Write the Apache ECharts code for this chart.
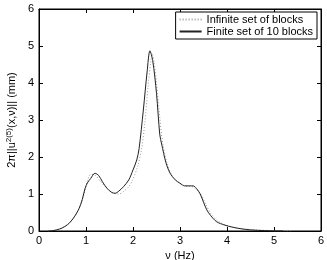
<!DOCTYPE html>
<html><head><meta charset="utf-8">
<script src="https://cdn.jsdelivr.net/npm/echarts@6/dist/echarts.min.js"></script>
<style>html,body{margin:0;padding:0;background:#fff}#c{width:327px;height:260px}</style>
</head><body><div id="c"></div>
<script>
const xTicks = [0,1,2,3,4,5,6];
const yTicks = [0,1,2,3,4,5,6];
const finiteV = [0.2,0.3,0.43,0.55,0.65,0.75,0.85,0.92,0.98,1.03,1.1,1.19,1.27,1.35,1.45,1.55,1.62,1.7,1.8,1.91,2.0,2.08,2.13,2.22,2.3,2.36,2.42,2.5,2.57,2.61,2.7,2.79,2.9,3.0,3.1,3.2,3.28,3.35,3.43,3.5,3.57,3.65,3.78,3.95,4.13,4.3,4.5,4.8,5.2];
const finiteY = [0,0.01,0.05,0.12,0.22,0.38,0.6,0.85,1.15,1.3,1.42,1.56,1.5,1.33,1.15,1.04,1.02,1.08,1.2,1.38,1.65,1.92,2.23,3.27,4.3,4.87,4.6,3.72,2.6,2.35,1.85,1.56,1.38,1.29,1.22,1.22,1.22,1.15,1.0,0.78,0.57,0.42,0.25,0.16,0.1,0.06,0.03,0.01,0];
const infiniteV = [0.2,0.43,0.65,0.85,0.95,1.02,1.1,1.18,1.3,1.45,1.6,1.7,1.8,1.91,2.0,2.1,2.18,2.25,2.32,2.38,2.41,2.45,2.5,2.56,2.63,2.72,2.82,2.95,3.1,3.25,3.35,3.45,3.55,3.65,3.8,4.0,4.2,4.5,5.0,5.4];
const infiniteY = [0,0.05,0.22,0.6,0.95,1.3,1.53,1.52,1.35,1.15,1.02,1.0,1.07,1.2,1.4,1.75,2.2,2.9,3.9,4.6,4.78,4.55,4.0,3.2,2.4,1.85,1.52,1.33,1.22,1.2,1.12,0.98,0.72,0.48,0.27,0.15,0.08,0.04,0.01,0];

const pair = (a,b)=>a.map((v,i)=>[v,b[i]]);
const font = 'Liberation Sans, Arial, sans-serif';
function axis(extra){
  return Object.assign({
    type:'value', min:xTicks[0], max:xTicks[xTicks.length-1], interval:1,
    axisLine:{show:true, onZero:false, lineStyle:{color:'#000', width:1}},
    axisTick:{show:true, inside:true, length:4, lineStyle:{color:'#000'}},
    splitLine:{show:false}
  }, extra);
}
const chart = echarts.init(document.getElementById('c'));
chart.setOption({
  animation:false,
  backgroundColor:'#fff',
  grid:{left:39, right:6, top:9, bottom:29, outerBoundsMode:'none', containLabel:false,
        show:true, borderColor:'#000', borderWidth:1, backgroundColor:'transparent'},
  legend:{
    orient:'vertical', right:10, top:12,
    backgroundColor:'#fff', borderColor:'#000', borderWidth:1,
    padding:[2,4,2,3], itemGap:1, itemWidth:22, itemHeight:10,
    itemStyle:{opacity:0},
    textStyle:{fontFamily:font, fontSize:11, color:'#000'},
    data:['Infinite set of blocks','Finite set of 10 blocks']
  },
  xAxis:[
    axis({position:'bottom', name:'ν (Hz)', nameLocation:'middle', nameGap:14,
      nameTextStyle:{fontFamily:font, fontSize:11, color:'#000'},
      axisLabel:{fontFamily:font, fontSize:11, color:'#000', margin:4}}),
    axis({position:'top', axisLabel:{show:false}})
  ],
  yAxis:[
    axis({position:'left', min:yTicks[0], max:yTicks[yTicks.length-1], name:'2π||u{s|2(5)}(x,ν)|| (mm)', nameLocation:'middle', nameGap:20,
      nameTextStyle:{fontFamily:font, fontSize:11, color:'#000', rich:{s:{fontSize:8, verticalAlign:'top', fontFamily:font, color:'#000', padding:[0,0,6,0]}}},
      axisLabel:{fontFamily:font, fontSize:11, color:'#000', margin:5}}),
    axis({position:'right', min:yTicks[0], max:yTicks[yTicks.length-1], axisLabel:{show:false}})
  ],
  series:[
    {name:'Infinite set of blocks', type:'line', smooth:0.3, symbol:'none',
     lineStyle:{color:'#999', width:1, type:[1,2]}, itemStyle:{color:'#999'},
     data:pair(infiniteV, infiniteY)},
    {name:'Finite set of 10 blocks', type:'line', smooth:0.3, symbol:'none',
     lineStyle:{color:'#222', width:1}, itemStyle:{color:'#222'},
     data:pair(finiteV, finiteY)},
    {name:'mirror', type:'line', xAxisIndex:1, yAxisIndex:1, symbol:'none', silent:true,
     lineStyle:{opacity:0}, data:[]}
  ]
});
</script></body></html>
